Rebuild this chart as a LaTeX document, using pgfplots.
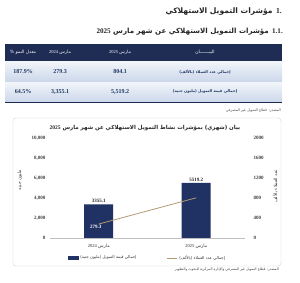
\documentclass[border=0pt]{standalone}
\usepackage{pgfplots}
\pgfplotsset{compat=1.18}
\usepackage{fontspec}
\setmainfont{Liberation Serif}
\newfontfamily\ar[Script=Arabic]{DejaVu Sans}
\TeXXeTstate=1
\definecolor{navy}{HTML}{1F2D55}
\definecolor{barnavy}{HTML}{1F3263}
\definecolor{tan}{HTML}{B39A72}
\definecolor{rowtop}{HTML}{F2F5FA}
\definecolor{rowbot}{HTML}{CBD7EA}
\definecolor{txtnavy}{HTML}{1F3864}
\begin{document}
\begin{tikzpicture}[x=1pt,y=1pt]
\path[fill=white] (0,0) rectangle (300,283);
% titles
\node[anchor=east, inner sep=0pt, font=\fontsize{7.6}{9}\selectfont\bfseries, text=black!85] at (282,271) {\ar\beginR\beginL{\rmfamily 1.}\endL{} مؤشرات التمويل الاستهلاكي\endR};
\node[anchor=east, inner sep=0pt, font=\fontsize{7.1}{9}\selectfont\bfseries, text=black!85] at (283,251) {\ar\beginR\beginL{\rmfamily 1.1.}\endL{} مؤشرات التمويل الاستهلاكي عن شهر مارس \beginL{\rmfamily 2025}\endL\endR};
% table
\fill[navy] (5,222) rectangle (282,239);
\shade[top color=rowtop,bottom color=rowbot] (5,201.5) rectangle (282,221.5);
\shade[top color=rowtop,bottom color=rowbot] (5,181) rectangle (282,200.5);
\draw[navy, line width=1.2pt] (5,180.5) -- (282,180.5);
\begin{scope}[every node/.style={inner sep=0pt, font=\fontsize{4.5}{5}\selectfont}]
\node[white] at (23,231) {\ar\beginR معدل النمو \%\endR};
\node[white] at (60,231) {\ar\beginR مارس \beginL{\rmfamily 2024}\endL\endR};
\node[white] at (120,231) {\ar\beginR مارس \beginL{\rmfamily 2025}\endL\endR};
\node[white] at (205,231) {\ar\beginR البيـــــــان\endR};
\end{scope}
\begin{scope}[every node/.style={inner sep=0pt, text=txtnavy, font=\fontsize{6}{7}\selectfont\bfseries}]
\node at (23,211) {187.9\%};
\node at (60,211) {279.3};
\node at (120,211) {804.1};
\node at (23,191) {64.5\%};
\node at (60,191) {3,355.1};
\node at (120,191) {5,519.2};
\end{scope}
\begin{scope}[every node/.style={inner sep=0pt, text=txtnavy, font=\fontsize{3.8}{5}\selectfont\bfseries}]
\node at (205,211) {\ar\beginR إجمالي عدد العملاء (بالألف)\endR};
\node at (205,191) {\ar\beginR إجمالي قيمة التمويل (مليون جنيه)\endR};
\end{scope}
\node[anchor=east, inner sep=0pt, text=black!70, font=\fontsize{3.6}{5}\selectfont] at (281,172) {\ar\beginR المصدر: قطاع التمويل غير المصرفي\endR};
% chart frame
\draw[black!18, line width=0.4pt, rounded corners=3pt] (13,17) rectangle (281,165);
\node[inner sep=0pt, text=black!85, font=\fontsize{5.5}{6}\selectfont\bfseries] at (145,155) {\ar\beginR بيان (شهري) بمؤشرات نشاط التمويل الاستهلاكي عن شهر مارس \beginL{\rmfamily 2025}\endL\endR};
\node[anchor=east, inner sep=0pt, text=black!75, font=\fontsize{3.5}{5}\selectfont] at (279,13) {\ar\beginR المصدر: قطاع التمويل غير المصرفي والإدارة المركزية للبحوث والتطوير\endR};
% left axis with bars
\begin{axis}[
  at={(50pt,45pt)}, anchor=south west, scale only axis,
  width=195pt, height=100pt,
  xmin=-0.5, xmax=1.5, ymin=0, ymax=10000,
  axis x line*=bottom, axis y line*=left,
  x axis line style={draw=black!25, -},
  y axis line style={draw=none},
  major tick length=0pt,
  scaled y ticks=false,
  xtick={0,1},
  xticklabels={{\ar\beginR مارس \beginL{\rmfamily 2024}\endL\endR},{\ar\beginR مارس \beginL{\rmfamily 2025}\endL\endR}},
  xticklabel style={font=\fontsize{4.5}{5}\selectfont, text=black!80, yshift=-3pt},
  ytick={0,2000,4000,6000,8000,10000},
  yticklabel style={font=\fontsize{5}{6}\selectfont\bfseries, text=black!75, /pgf/number format/1000 sep={,}, xshift=-1pt},
  /pgf/number format/assume math mode=true,
  ylabel={\ar\beginR مليون جنيه\endR},
  ylabel style={font=\fontsize{4.5}{5}\selectfont, text=black!80, at={(rel axis cs:-0.155,0.58)}, anchor=center},
  ybar, bar width=29pt,
  point meta=explicit symbolic,
  nodes near coords,
  every node near coord/.append style={font=\fontsize{5}{6}\selectfont\bfseries, text=black!85, inner sep=1.2pt},
  clip=false,
]
\addplot[fill=barnavy, draw=none] coordinates {(0,3355.1) [3355.1] (1,5519.2) [5519.2]};
\end{axis}
% right axis with line
\begin{axis}[
  at={(50pt,45pt)}, anchor=south west, scale only axis,
  width=195pt, height=100pt,
  xmin=-0.5, xmax=1.5, ymin=0, ymax=2000,
  axis x line=none, axis y line*=right,
  y axis line style={draw=none},
  major tick length=0pt,
  scaled y ticks=false,
  ytick={0,400,800,1200,1600,2000},
  yticklabel style={font=\fontsize{5}{6}\selectfont\bfseries, text=black!75, /pgf/number format/1000 sep={}, xshift=5pt},
  /pgf/number format/assume math mode=true,
  ylabel={\ar\beginR عدد العملاء بالألف\endR},
  ylabel style={font=\fontsize{4.5}{5}\selectfont, text=black!80, at={(rel axis cs:1.155,0.52)}, anchor=center},
  legend style={at={(0.5,-0.2)}, anchor=center, draw=none, fill=none, legend columns=2,
    font=\fontsize{4}{5}\selectfont, text=black!80,
    /tikz/every even column/.append style={column sep=28pt}},
  clip=false,
]
\addlegendimage{legend image code/.code={\fill[barnavy] (0pt,-1.6pt) rectangle (10pt,1.6pt);}}
\addlegendentry{\ar\beginR إجمالي قيمة التمويل (مليون جنيه)\endR}
\addplot[color=tan, line width=0.8pt, mark=none, legend image code/.code={\draw[tan, line width=0.8pt] (0pt,0pt) -- (10pt,0pt);}] coordinates {(0,279.3) (1,804.1)};
\addlegendentry{\ar\beginR إجمالي عدد العملاء (بالألف)\endR}
\node[white, anchor=north, inner sep=1pt, font=\fontsize{5}{6}\selectfont\bfseries] at (axis cs:-0.03,275) {279.3};
\node[white, anchor=south, inner sep=1pt, font=\fontsize{5}{6}\selectfont\bfseries] at (axis cs:0.03,810) {804.1};
\end{axis}
\end{tikzpicture}
\end{document}
